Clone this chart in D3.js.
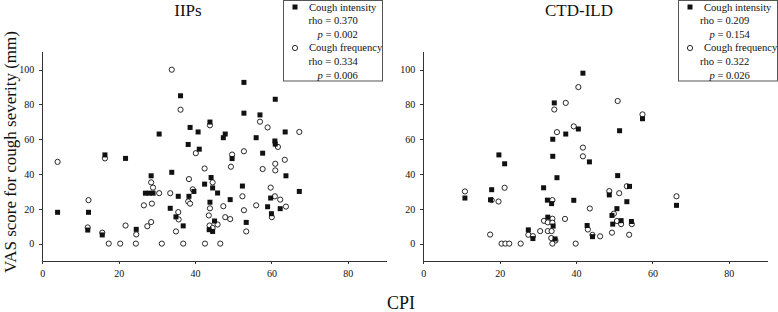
<!DOCTYPE html>
<html>
<head>
<meta charset="utf-8">
<script src="https://cdn.jsdelivr.net/npm/d3@7"></script>
<style>
  body { margin: 0; background: #fff; }
  svg text { font-family: "Liberation Serif", "Times New Roman", serif; fill: #111; }
  .axis path, .axis line { stroke: #333; shape-rendering: crispEdges; }
  .axis text { font-size: 10px; }
</style>
</head>
<body>
<script>
// CPI vs VAS score, [cpi, vas]
var iipsIntensity = [
  [4.0,18],[12.1,18],[11.9,7.8],[15.7,5],[16.4,51],[21.8,49],[24.6,8.2],[27,29],[28,29],[29,29],
  [28.5,39],[30.6,63],[33.9,41],[33.5,20.3],[35,15.4],[35.6,27.2],[36.9,10.2],[36.2,85],[38.2,57],[38.4,27.2],
  [38.7,66.8],[39.7,30],[40.8,64.2],[41.1,54.3],[42.5,34.2],[43.9,23.8],[43.7,8],[44.6,7],[45.1,13],[44.6,32],
  [44.2,38],[43.9,69.9],[45.9,29.1],[47.4,60.9],[47.9,63],[49.2,25.3],[49.7,48.9],[52.4,33.1],[53.4,12.2],[52.8,92.7],
  [52.8,75],[56,60.9],[57,74],[57.7,52],[59,21.2],[59.8,26.2],[60,17.2],[60.9,59],[61,57.2],[61,83],
  [62.3,20.1],[63.6,64.2],[63.8,39],[67.3,30]
];
var iipsFrequency = [
  [4.0,47],[12.1,25],[11.9,9.3],[15.7,6.3],[16.4,49],[17.4,0],[20.4,0],[21.8,10.4],[24.5,0],[24.6,5.3],
  [26.6,22],[27.5,10],[28.5,12.4],[28.7,23],[28.5,35.2],[29,32.2],[30.6,29],[31.3,0],[33.5,29],[33.9,100],
  [35.6,18.1],[35.7,13.9],[35,7],[36.2,77],[36.9,0],[38.4,37.1],[38.2,24.2],[38.7,23],[39.4,31.2],[40.2,52],
  [42.5,43.2],[42.6,0],[43.6,16.2],[43.9,20.3],[43.8,10.4],[44.6,9],[45.9,11],[44.6,35.2],[43.9,68],[46.6,0],
  [47.4,21.5],[47.9,15.2],[49.2,14.1],[49.4,44.2],[49.7,51.2],[52.4,27.2],[52.8,19.2],[52.8,53.1],[53.4,7],[56,22],
  [57,70.1],[57.7,42.9],[59,66.8],[59.8,32.2],[60.1,15.2],[60.9,27.2],[61,45.9],[61,42.1],[61.7,55.6],[62.3,25.3],
  [63.5,48.2],[63.8,21.3],[67.3,64.2]
];
var ctdIntensity = [
  [10.9,26.2],[17.6,25.2],[17.9,31],[19.8,51],[21.3,45.9],[27.5,7.9],[28.7,2.9],[31.5,32.1],[32.5,25],[32.6,15.2],
  [33.6,23],[33.9,50.2],[33.9,60],[34.3,80.9],[34,10.1],[34.5,2.7],[35,37.9],[37.3,63],[39.4,24.9],[40.6,65.9],
  [41.8,98],[42.9,10.4],[43.5,47],[44.3,4],[48.7,28],[49.4,16.2],[49.6,11.2],[50.7,20.1],[50.9,39.1],[51.4,64.9],
  [51.8,13.2],[53.3,24.1],[54,32.9],[54.5,12.7],[57.4,71.8],[66.3,22]
];
var ctdFrequency = [
  [10.9,30],[17.5,5.2],[17.9,25],[19.7,24.2],[21.3,32.1],[20.5,0],[21.5,0],[22.5,0],[25.5,0],[27.5,5.1],
  [28.7,4.3],[30.6,7.2],[31.6,13.1],[32.6,12.2],[32.6,7.2],[33.6,7.2],[33.8,14.3],[33.8,12],[33.5,3.2],[34.6,1.8],
  [33.8,0],[33.8,25],[34.3,77.1],[35,64.1],[37.1,14.2],[37.3,80.9],[39.4,67.4],[39.9,0],[40.6,90],[41.8,55.2],
  [41.8,50.2],[43.1,8.1],[43.6,20.2],[44.3,5],[46.3,4.2],[48.7,30.2],[49.4,6.3],[49.9,17.2],[50.7,13],[50.9,82],
  [51.3,29],[51.8,11.2],[53.3,33],[53.9,5.1],[54.6,11.2],[57.4,74.3],[66.3,27.2]
];

var titles = ["IIPs", "CTD-ILD"];
var seriesNames = ["Cough intensity", "Cough frequency"];
var rhoValues = [["0.370", "0.334"], ["0.209", "0.322"]];
var pValues = [["0.002", "0.006"], ["0.154", "0.026"]];
var xTicks = [0, 20, 40, 60, 80];
var yTicks = [0, 20, 40, 60, 80, 100];

var width = 778, height = 312;

var svg = d3.select("body").append("svg")
  .attr("width", width)
  .attr("height", height);

var yScale = d3.scaleLinear().domain([-10, 110]).range([261, 52.3]);

var panels = [
  {x0: 42.3, x1: 386, title: titles[0], titleX: 188, legendX: 283.5, mk: 11.5, tx: 25.5, rx: 25, px: 34,
   data: [iipsIntensity, iipsFrequency], rho: rhoValues[0], p: pValues[0]},
  {x0: 423.3, x1: 767, title: titles[1], titleX: 579, legendX: 678.5, mk: 11.5, tx: 25.5, rx: 21.5, px: 31,
   data: [ctdIntensity, ctdFrequency], rho: rhoValues[1], p: pValues[1]}
];

panels.forEach(function(pn) {
  var xScale = d3.scaleLinear().domain([0, 90]).range([pn.x0, pn.x1]);

  var g = svg.append("g");

  g.append("g")
    .attr("class", "axis")
    .attr("transform", "translate(" + pn.x0 + ",0)")
    .call(d3.axisLeft(yScale).tickValues(yTicks).tickSize(3).tickSizeOuter(0).tickPadding(5))
    .call(function(a){ a.select(".domain").attr("d", "M0," + yScale(110) + "V" + yScale(-10)); });

  g.append("g")
    .attr("class", "axis")
    .attr("transform", "translate(0," + yScale(-10) + ")")
    .call(d3.axisBottom(xScale).tickValues(xTicks).tickSize(3).tickSizeOuter(0).tickPadding(6));

  g.selectAll(".tick text").attr("fill", "#111");

  // circles first, squares on top
  g.append("g").selectAll("circle")
    .data(pn.data[1])
    .enter().append("circle")
    .attr("cx", function(d){ return xScale(d[0]); })
    .attr("cy", function(d){ return yScale(d[1]); })
    .attr("r", 2.6)
    .attr("fill", "#fff")
    .attr("stroke", "#111")
    .attr("stroke-width", 0.9);

  g.append("g").selectAll("rect")
    .data(pn.data[0])
    .enter().append("rect")
    .attr("x", function(d){ return xScale(d[0]) - 2.5; })
    .attr("y", function(d){ return yScale(d[1]) - 2.5; })
    .attr("width", 5)
    .attr("height", 5)
    .attr("fill", "#111");

  g.append("text")
    .attr("x", pn.titleX)
    .attr("y", 16)
    .attr("text-anchor", "middle")
    .style("font-size", "17px")
    .text(pn.title);

  // legend
  var lg = g.append("g").attr("transform", "translate(" + pn.legendX + ",0)");
  lg.append("rect")
    .attr("x", 0).attr("y", 0.5)
    .attr("width", 99).attr("height", 80.5)
    .attr("fill", "#fff")
    .attr("stroke", "#555")
    .attr("stroke-width", 1);

  lg.append("rect").attr("x", pn.mk - 2.5).attr("y", 4.5).attr("width", 5).attr("height", 5).attr("fill", "#111");
  lg.append("circle").attr("cx", pn.mk).attr("cy", 48).attr("r", 2.6)
    .attr("fill", "#fff").attr("stroke", "#111").attr("stroke-width", 0.9);

  [0, 1].forEach(function(i) {
    var base = 10.5 + i * 40.8;
    lg.append("text").attr("x", pn.tx).attr("y", base).style("font-size", "10.6px").text(seriesNames[i]);
    lg.append("text").attr("x", pn.rx).attr("y", base + 13.6).style("font-size", "10.6px").text("rho = " + pn.rho[i]);
    var pt = lg.append("text").attr("x", pn.px).attr("y", base + 27.2).style("font-size", "10.6px");
    pt.append("tspan").style("font-style", "italic").text("p");
    pt.append("tspan").text(" = " + pn.p[i]);
  });
});

svg.append("text")
  .attr("transform", "translate(15.5,152) rotate(-90)")
  .attr("text-anchor", "middle")
  .style("font-size", "17px")
  .text("VAS score for cough severity (mm)");

svg.append("text")
  .attr("x", 401)
  .attr("y", 309)
  .attr("text-anchor", "middle")
  .style("font-size", "18px")
  .text("CPI");
</script>
</body>
</html>
